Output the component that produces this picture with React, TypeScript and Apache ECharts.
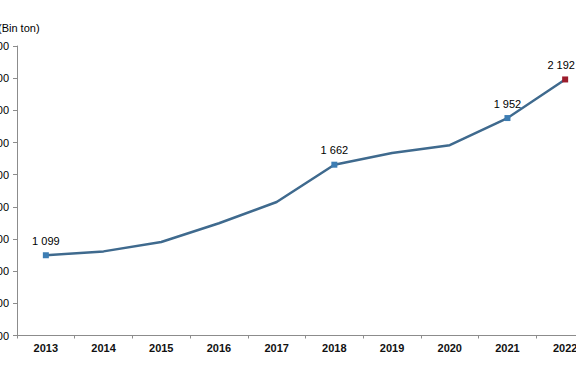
import React, { useEffect, useRef } from "react";
import * as echarts from "echarts";

const years = ["2013", "2014", "2015", "2016", "2017", "2018", "2019", "2020", "2021", "2022"];
const values = [1099, 1123, 1181, 1298, 1430, 1662, 1735, 1783, 1952, 2192];
const labeledIndices = [0, 5, 8, 9];
const yMin = 600;
const yMax = 2400;
const yStep = 200;
const unitLabel = "(Bin ton)";

const fmt = (v: number) => String(v).replace(/\B(?=(\d{3})+(?!\d))/g, " ");

export default function App() {
  const ref = useRef<HTMLDivElement>(null);
  useEffect(() => {
    if (!ref.current) return;
    const chart = echarts.init(ref.current, undefined, { renderer: "svg" });
    const last = values.length - 1;
    const data = values.map((v, i) => {
      const marked = labeledIndices.includes(i);
      return {
        value: v,
        symbol: marked ? "rect" : "none",
        symbolSize: marked ? 6 : 0,
        itemStyle: { color: i === last ? "#9c1c2c" : "#3d7db3" },
        label: {
          show: marked,
          position: "top",
          distance: 6,
          offset: i === last ? [-4, 0] : [0, 0],
          formatter: () => fmt(v),
          color: "#000",
          fontSize: 11,
          fontFamily: "Liberation Sans, Arial, sans-serif",
        },
      };
    });
    chart.setOption({
      animation: false,
      grid: {
        left: 17,
        right: -18,
        top: 46,
        bottom: 39.5,
        containLabel: false,
        outerBoundsMode: "none",
      },
      graphic: [
        {
          type: "text",
          left: -2,
          top: 22,
          style: {
            text: unitLabel,
            fontSize: 11,
            fontFamily: "Liberation Sans, Arial, sans-serif",
            fill: "#000",
          },
        },
      ],
      xAxis: {
        type: "category",
        data: years,
        boundaryGap: true,
        axisLine: { lineStyle: { color: "#8c8c8c", width: 1 } },
        axisTick: { show: true, length: 3, lineStyle: { color: "#8c8c8c" } },
        axisLabel: {
          color: "#111",
          fontSize: 11,
          fontWeight: "bold",
          margin: 7,
          fontFamily: "Liberation Sans, Arial, sans-serif",
        },
      },
      yAxis: {
        type: "value",
        min: yMin,
        max: yMax,
        interval: yStep,
        axisLine: { show: true, lineStyle: { color: "#8c8c8c", width: 1 } },
        axisTick: { show: true, length: 4, lineStyle: { color: "#8c8c8c" } },
        splitLine: { show: false },
        axisLabel: {
          color: "#000",
          fontSize: 11,
          margin: 8,
          formatter: (v: number) => fmt(v),
          fontFamily: "Liberation Sans, Arial, sans-serif",
        },
      },
      series: [
        {
          type: "line",
          data,
          lineStyle: { color: "#3f6a8e", width: 2.5 },
          showSymbol: true,
          smooth: false,
        },
      ],
    });
    return () => chart.dispose();
  }, []);
  return (
    <div
      ref={ref}
      style={{ position: "fixed", left: 0, top: 0, width: 576, height: 375, background: "#fff" }}
    />
  );
}
